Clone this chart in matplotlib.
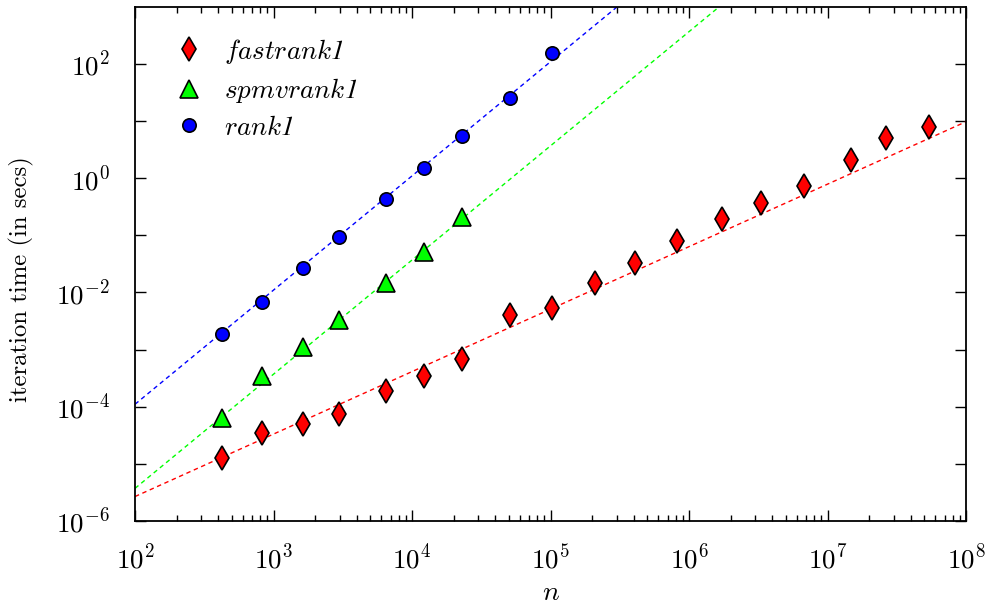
import matplotlib
matplotlib.use("Agg")
import matplotlib.pyplot as plt
from matplotlib.ticker import FixedLocator, NullFormatter, LogFormatterMathtext

plt.rcParams['mathtext.fontset'] = 'cm'
plt.rcParams['font.family'] = ['cmr10', 'DejaVu Serif']
plt.rcParams['axes.formatter.use_mathtext'] = True

# data
n_fast = [422, 820, 1620, 2990, 6460, 12300, 23100, 51200, 103000, 210000,
          408000, 824000, 1.72e6, 3.30e6, 6.71e6, 1.47e7, 2.64e7, 5.41e7]
t_fast = [1.25e-5, 3.4e-5, 5.0e-5, 7.3e-5, 1.87e-4, 3.4e-4, 6.7e-4, 4.0e-3, 5.4e-3,
          1.47e-2, 3.33e-2, 7.95e-2, 0.196, 0.367, 0.72, 2.05, 5.1, 7.8]

n_spmv = [422, 820, 1620, 2990, 6460, 12300, 23100]
t_spmv = [6.2e-5, 3.4e-4, 1.11e-3, 3.27e-3, 1.47e-2, 5.1e-2, 0.209]

n_rank = [422, 820, 1620, 2990, 6460, 12300, 23100, 51200, 103000]
t_rank = [1.86e-3, 6.8e-3, 2.7e-2, 9.3e-2, 0.43, 1.53, 5.4, 25.9, 158]

# fitted dashed lines (end points)
fit_x = [1e2, 1e8]
fit_fast = [2.66e-6, 9.8]
fit_spmv = [3.7e-6, 3.7e6]
fit_rank = [1.1e-4, 1.1e8]

labels = [r'$\mathit{fastrank}$1', r'$\mathit{spmvrank}$1', r'$\mathit{rank}$1']

# axis ticks
x_major = [1e2, 1e3, 1e4, 1e5, 1e6, 1e7, 1e8]
y_major = [1e-6, 1e-4, 1e-2, 1e0, 1e2]
y_minor = [1e-5, 1e-3, 1e-1, 1e1]

fig = plt.figure(figsize=(9.87, 6.07), dpi=100)
ax = fig.add_axes([0.1368, 0.142, 0.842, 0.8465])

dash = (0, (3.2, 2.6))
ax.plot(fit_x, fit_fast, color='#ff0000', lw=1.0, ls=dash, zorder=2)
ax.plot(fit_x, fit_spmv, color='#00ff00', lw=1.0, ls=dash, zorder=2)
ax.plot(fit_x, fit_rank, color='#0000ff', lw=1.0, ls=dash, zorder=2)

ax.plot(n_fast, t_fast, ls='none', marker='d', ms=12.2, mfc='#ff0000', mec='black',
        mew=1.2, label=labels[0], zorder=3)
ax.plot(n_spmv, t_spmv, ls='none', marker='^', ms=12.5, mfc='#00ff00', mec='black',
        mew=1.2, label=labels[1], zorder=3)
ax.plot(n_rank, t_rank, ls='none', marker='o', ms=9.6, mfc='#0000ff', mec='black',
        mew=1.2, label=labels[2], zorder=3)

ax.set_xscale('log')
ax.set_yscale('log')
ax.set_xlim(x_major[0], x_major[-1])
ax.set_ylim(1e-6, 1e3)

x_minor = [m * d for d in x_major[:-1] for m in range(2, 10)]
ax.xaxis.set_major_locator(FixedLocator(x_major))
ax.xaxis.set_minor_locator(FixedLocator(x_minor))
ax.xaxis.set_minor_formatter(NullFormatter())
ax.yaxis.set_major_locator(FixedLocator(y_major))
ax.yaxis.set_minor_locator(FixedLocator(y_minor))
ax.yaxis.set_minor_formatter(NullFormatter())
ax.xaxis.set_major_formatter(LogFormatterMathtext())
ax.yaxis.set_major_formatter(LogFormatterMathtext())

ax.tick_params(which='both', direction='in', top=True, right=True, labelsize=19.5, width=1.0)
ax.tick_params(which='major', length=8)
ax.tick_params(axis='x', which='major', pad=17)
ax.tick_params(axis='y', which='major', pad=18)
ax.tick_params(axis='x', which='minor', length=4)
ax.tick_params(axis='y', which='minor', length=8)
ax.tick_params(which='minor', labelbottom=False, labelleft=False)
for s in ax.spines.values():
    s.set_linewidth(1.3)

ax.set_xlabel(r'$n$', fontsize=20)
ax.xaxis.set_label_coords(0.5, -0.114)
ax.set_ylabel('iteration time (in secs)', fontsize=17.8)
ax.yaxis.set_label_coords(-0.122, 0.47)

leg = ax.legend(loc='upper left', frameon=False,
                prop=dict(family='STIXGeneral', style='italic', size=19.5),
                handletextpad=0.5, labelspacing=0.39, borderaxespad=0.0,
                bbox_to_anchor=(0.0254, 0.963), handlelength=1.6)

fig.savefig('out.png', dpi=100)
